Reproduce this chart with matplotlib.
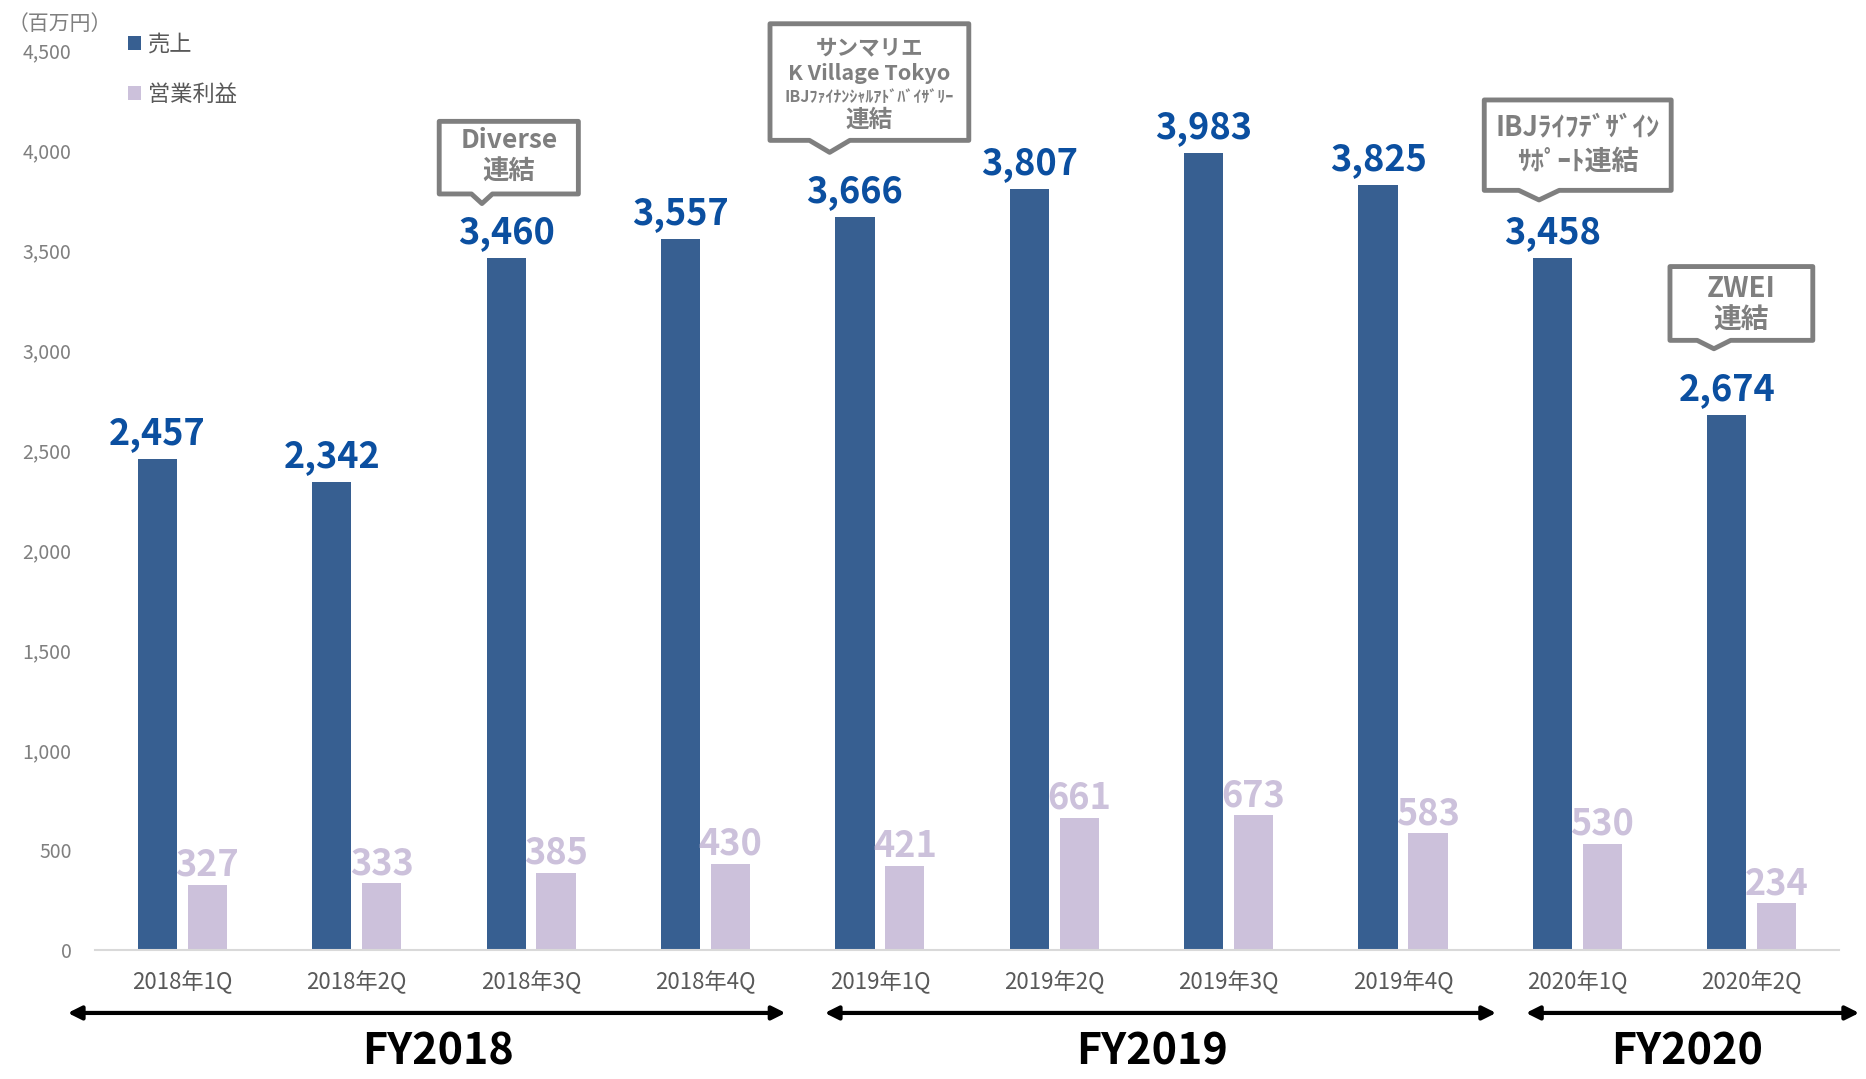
import matplotlib
matplotlib.use("Agg")
import matplotlib.pyplot as plt
from matplotlib.patches import Polygon
import numpy as np

plt.rcParams['font.family'] = ['Noto Sans CJK JP', 'DejaVu Sans']

# data
quarters = ['2018年1Q', '2018年2Q', '2018年3Q', '2018年4Q',
            '2019年1Q', '2019年2Q', '2019年3Q', '2019年4Q',
            '2020年1Q', '2020年2Q']
sales = [2457, 2342, 3460, 3557, 3666, 3807, 3983, 3825, 3458, 2674]
op_profit = [327, 333, 385, 430, 421, 661, 673, 583, 530, 234]
yticks = [0, 500, 1000, 1500, 2000, 2500, 3000, 3500, 4000, 4500]

# callouts: lines (text, size, y), box (x0, x1, ybottom, ytop), tip (x, y), notch half width
callouts = [
    ([('Diverse', 19, 4048), ('連結', 19, 3887)],
     (1.473, 2.271, 3780, 4143), (1.718, 3732), 0.06),
    ([('サンマリエ', 15.5, 4512), ('K Village Tokyo', 15.5, 4381),
      ('IBJﾌｧｲﾅﾝｼｬﾙｱﾄﾞﾊﾞｲｻﾞﾘｰ', 11.5, 4268), ('連結', 17, 4149)],
     (3.370, 4.510, 4048, 4631), (3.712, 3988), 0.116),
    ([('IBJﾗｲﾌﾃﾞｻﾞｲﾝ', 19.5, 4113), ('ｻﾎﾟｰﾄ連結', 19.5, 3940)],
     (7.466, 8.538, 3798, 4250), (7.780, 3750), 0.116),
    ([('ZWEI', 20, 3305), ('連結', 20, 3145)],
     (8.531, 9.350, 3048, 3417), (8.783, 3006), 0.096),
]

# fiscal year spans (x from, x to, label x)
fy_labels = ['FY2018', 'FY2019', 'FY2020']
fy_spans = [(-0.657, 3.459, 1.466), (3.684, 7.534, 5.56), (7.705, 9.616, 8.63)]

blue = '#375f91'
lav = '#ccc1db'
lbl_blue = '#0b4fa0'
gray = '#7f7f7f'

fig = plt.figure(figsize=(18.66, 10.79), dpi=100)
ax = fig.add_axes([0.051, 0.1196, 0.9345, 0.8341])

x = np.arange(len(quarters))
w = 0.225
off = 0.143
b1 = ax.bar(x - off, sales, w, color=blue, label='売上', zorder=2)
b2 = ax.bar(x + off, op_profit, w, color=lav, label='営業利益', zorder=2)

for xi, v in zip(x, sales):
    ax.text(xi - off, v + 35, f'{v:,}', ha='center', va='bottom', color=lbl_blue,
            fontsize=26, fontweight='bold', clip_on=False)
for xi, v in zip(x, op_profit):
    ax.text(xi + off, v + 5, f'{v:,}', ha='center', va='bottom', color=lav,
            fontsize=26, fontweight='bold', clip_on=False)

ax.set_xlim(-0.5, 9.5)
ax.set_ylim(0, 4500)
ax.set_yticks(yticks)
ax.set_yticklabels([f'{t:,}' for t in yticks])
ax.set_xticks(x)
ax.set_xticklabels(quarters)
ax.tick_params(axis='x', length=0, pad=15, labelsize=16, labelcolor='#595959')
ax.tick_params(axis='y', length=0, pad=17, labelsize=14, labelcolor=gray)
for s in ['top', 'right', 'left']:
    ax.spines[s].set_visible(False)
ax.spines['bottom'].set_color('#d9d9d9')
ax.spines['bottom'].set_linewidth(1.5)

# callout boxes
for lines, (x0, x1, y0, y1), (tx, ty), hw in callouts:
    pts = [(x0, y0), (tx - hw, y0), (tx, ty), (tx + hw, y0), (x1, y0), (x1, y1), (x0, y1)]
    poly = Polygon(pts, closed=True, facecolor='white', edgecolor=gray, linewidth=3.5,
                   joinstyle='round', clip_on=False, zorder=3)
    ax.add_patch(poly)
    for txt, fs, ty_ in lines:
        ax.text((x0 + x1) / 2, ty_, txt, ha='center', va='center', color=gray,
                fontsize=fs, fontweight='bold', clip_on=False, zorder=4)

# fiscal year arrows
for lab, (xa, xb, xl) in zip(fy_labels, fy_spans):
    ax.annotate('', xy=(xa, -315), xytext=(xb, -315), xycoords='data',
                arrowprops=dict(arrowstyle='<|-|>', color='black', lw=3,
                                mutation_scale=20, shrinkA=0, shrinkB=0),
                annotation_clip=False)
    ax.text(xl, -510, lab, ha='center', va='center', fontsize=31, fontweight='bold',
            color='black', clip_on=False)

fig.text(8 / 1866, 1 - 24 / 1079, '（百万円）', ha='left', va='center', fontsize=15, color=gray)

ax.legend(handles=[b1, b2], loc='upper left', bbox_to_anchor=(128 / 1866, 1 - 33 / 1079),
          bbox_transform=fig.transFigure, frameon=False, fontsize=16, labelcolor='#595959',
          handlelength=0.6, handleheight=0.6, handletextpad=0.3, labelspacing=1.2,
          borderaxespad=0, borderpad=0)

fig.savefig('out.png', dpi=100)
